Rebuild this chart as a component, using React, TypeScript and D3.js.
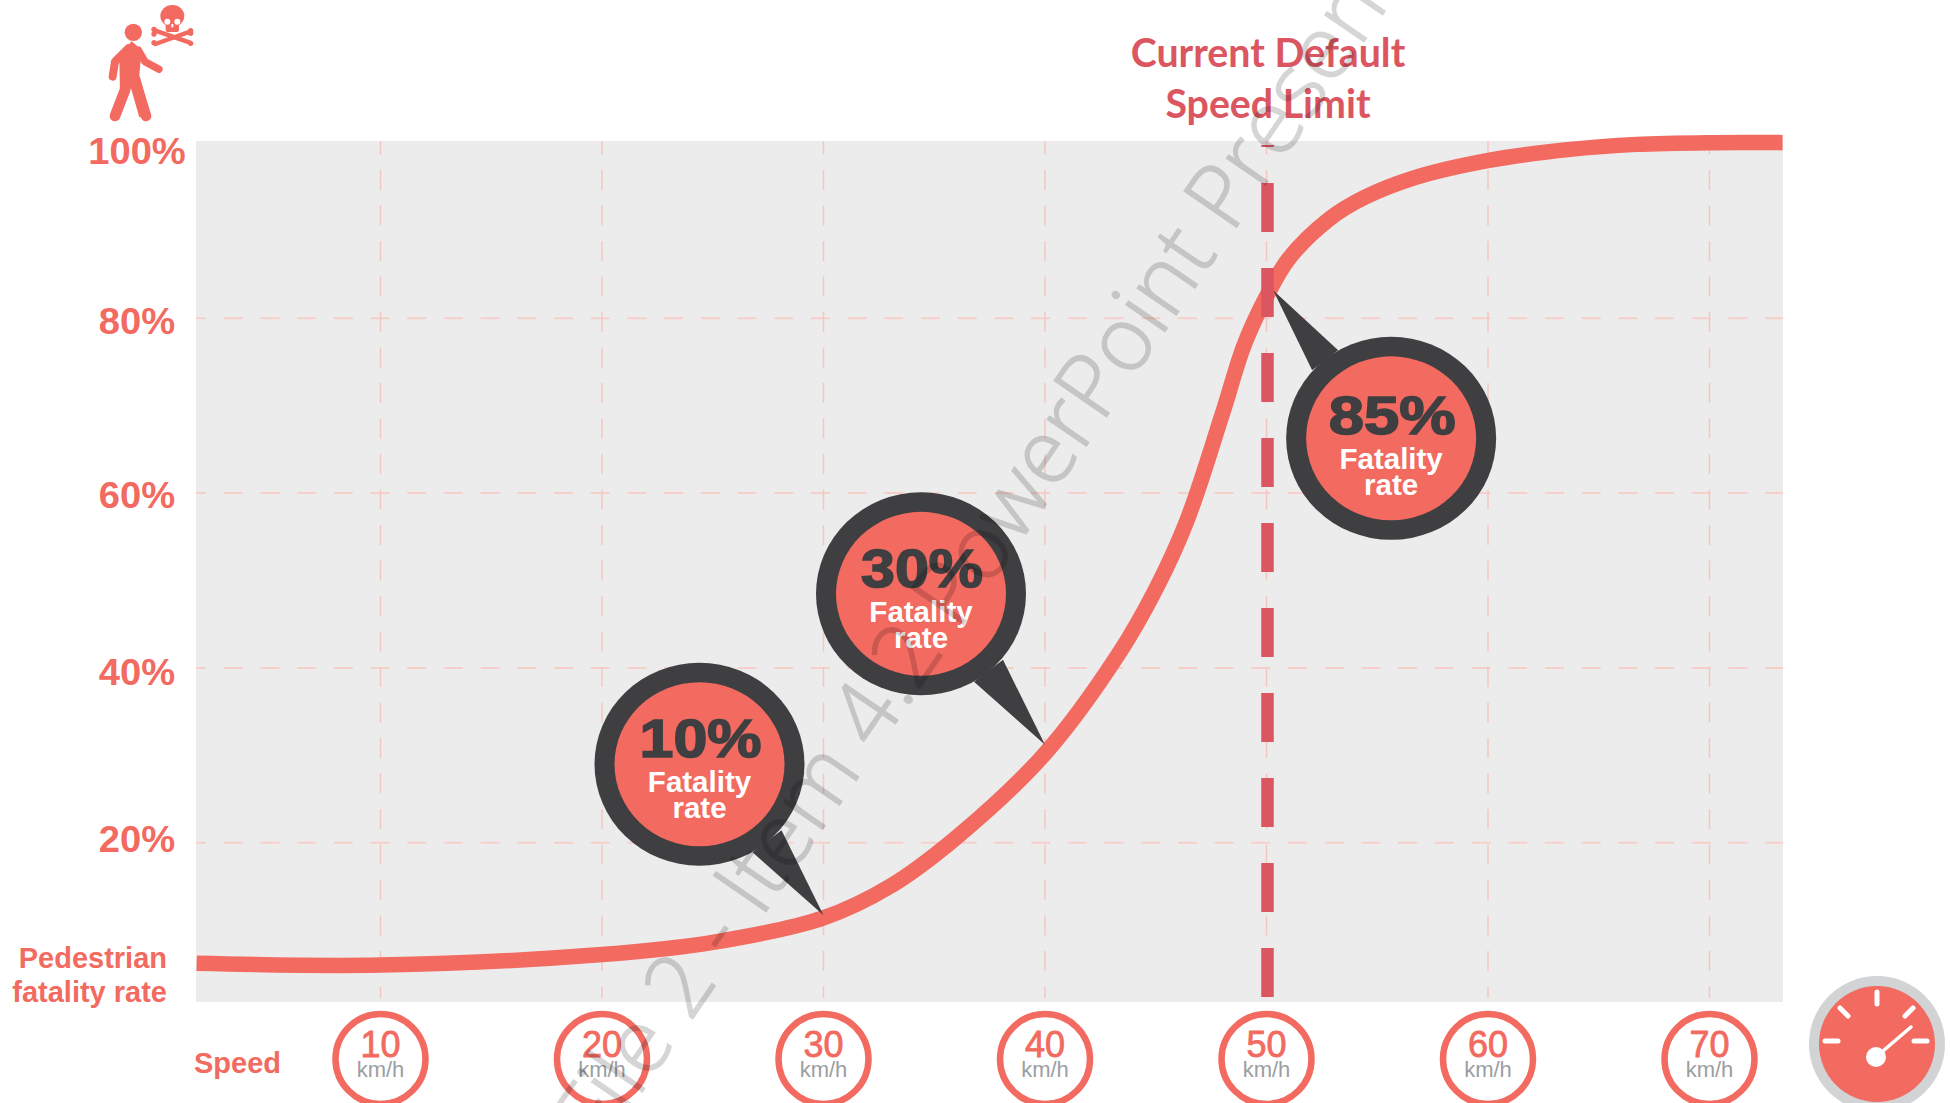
import React from 'react';
import * as d3 from 'd3';

const speedTicks = [10, 20, 30, 40, 50, 60, 70];
const rateTicks = [20, 40, 60, 80, 100];
const rateNudge = [9, 17, 15, 16, 20];

// speed in km/h, fatality rate in %
const curveSpeed = [1.7, 10, 20, 25, 30, 33, 36, 40, 43.3, 45, 46.4, 48, 49, 50, 51, 52.8, 54.4, 56.7, 60.1, 63.6, 66.7, 70.2, 73.3];
const curveRate = [6.2, 6.0, 7.2, 8.6, 11.4, 15, 20.6, 30.2, 41.5, 49, 56.8, 69, 77, 82.5, 86.8, 91.3, 93.8, 96.1, 98.1, 99.3, 99.9, 100.1, 100.1];

const calloutLabels = ['10%', '30%', '85%'];
const calloutSpeed = [30, 40, 50.3];
const calloutRate = [11.7, 31.2, 83.2];
const limitSpeed = 50;

const SALMON = '#f26a60';
const DARK = '#3f3f41';
const SANS = '"Liberation Sans", Arial, sans-serif';

const plot = { left: 196, right: 1783, top: 141, bottom: 1002 };

const x = d3.scaleLinear().domain([10, 70]).range([380.5, 1709.5]);
const y = d3.scaleLinear().domain([0, 100]).range([1017.5, 143.5]);

const curve = d3.line<number>()
  .x((s) => x(s))
  .y((_, i) => y(curveRate[i]))
  .curve(d3.curveCatmullRom.alpha(0.5));

const Callout = ({ i }: { i: number }) => {
  const tx = x(calloutSpeed[i]);
  const ty = y(calloutRate[i]);
  const flip = i === 2;
  const cx = tx + (flip ? 118 : -124);
  const cy = ty + (flip ? 148 : -151);
  const d = flip ? 3 : 0;
  const tail = flip
    ? [[tx + 65, ty + 60], [tx, ty], [tx + 39, ty + 80]]
    : [[tx - 42, ty - 85], [tx, ty], [tx - 71, ty - 63]];
  return (
    <g>
      <polygon points={tail.map((p) => p.join(',')).join(' ')} fill={DARK} />
      <ellipse cx={cx} cy={cy} rx={105} ry={101.5} fill={DARK} />
      <ellipse cx={cx} cy={cy} rx={85} ry={82} fill={SALMON} />
      <text x={cx + 1} y={cy - 7 + d} textAnchor="middle" fontFamily={SANS} fontWeight="bold" fontSize={54}
        fill={DARK} stroke={DARK} strokeWidth={1.6} textLength={flip ? 127 : 122} lengthAdjust="spacingAndGlyphs">
        {calloutLabels[i]}
      </text>
      <text x={cx} y={cy + 28 + d} textAnchor="middle" fontFamily={SANS} fontWeight="bold" fontSize={29.5} fill="#fff">Fatality</text>
      <text x={cx} y={cy + 54 + d} textAnchor="middle" fontFamily={SANS} fontWeight="bold" fontSize={29.5} fill="#fff">rate</text>
    </g>
  );
};

const Walker = () => (
  <g transform="translate(60,0) scale(0.3333)" fill={SALMON} stroke="none">
    <circle cx={220} cy={97} r={26} />
    <polygon points="178,165 215,124 245,150 238,225 272,350 238,352 213,265 172,352 150,345 180,285" />
    <g fill="none" stroke={SALMON} strokeLinecap="round" strokeLinejoin="round">
      <polyline points="205,145 165,185 158,230" strokeWidth={24} />
      <polyline points="235,150 255,185 297,208" strokeWidth={22} />
      <line x1={195} y1={270} x2={165} y2={348} strokeWidth={32} />
      <line x1={225} y1={240} x2={258} y2={348} strokeWidth={32} />
      <line x1={286} y1={92} x2={390} y2={128} strokeWidth={13} />
      <line x1={390} y1={95} x2={286} y2={132} strokeWidth={13} />
    </g>
    <circle cx={282} cy={88} r={8} /><circle cx={282} cy={102} r={8} />
    <circle cx={392} cy={92} r={8} /><circle cx={392} cy={130} r={8} />
    <circle cx={282} cy={128} r={8} /><circle cx={392} cy={100} r={8} />
    <ellipse cx={337} cy={48} rx={36} ry={33} />
    <rect x={317} y={65} width={40} height={31} rx={6} />
    <circle cx={322} cy={65} r={9} fill="#fff" />
    <circle cx={352} cy={65} r={9} fill="#fff" />
    <rect x={334} y={72} width={6} height={10} fill="#fff" />
  </g>
);

const Gauge = () => {
  const cx = 1877;
  const cy = 1044;
  const marks = [[0, -52, 0, -40], [-52, -3, -39, -3], [37, -3, 50, -3], [-37, -36, -29, -28], [36, -36, 28, -28]];
  return (
    <g>
      <circle cx={cx} cy={cy} r={68} fill="#d1d3d4" />
      <circle cx={cx} cy={cy} r={58} fill={SALMON} />
      <g stroke="#fff" strokeWidth={5} strokeLinecap="round">
        {marks.map((m, i) => (
          <line key={i} x1={cx + m[0]} y1={cy + m[1]} x2={cx + m[2]} y2={cy + m[3]} />
        ))}
      </g>
      <line x1={cx - 1} y1={cy + 13} x2={cx + 34} y2={cy - 17} stroke="#fff" strokeWidth={3.5} strokeLinecap="round" />
      <circle cx={cx - 1} cy={cy + 13} r={10} fill="#fff" />
    </g>
  );
};

const App = () => (
  <svg width={1950} height={1103} viewBox="0 0 1950 1103"
    style={{ position: 'absolute', left: 0, top: 0, background: '#fff' }}>
    <rect x={plot.left} y={plot.top} width={plot.right - plot.left} height={plot.bottom - plot.top} fill="#ececec" />

    {rateTicks.slice(0, 4).map((r) => (
      <line key={r} x1={plot.left} x2={plot.right} y1={y(r)} y2={y(r)}
        stroke="#f6cfca" strokeWidth={2} strokeDasharray="19 17.7" strokeDashoffset={9} />
    ))}
    {speedTicks.map((s) => (
      <line key={s} x1={x(s)} x2={x(s)} y1={plot.top} y2={plot.bottom - 4}
        stroke="#f4c6c0" strokeWidth={1.5} strokeDasharray="20 15.5" strokeDashoffset={6.5} />
    ))}

    <path d={curve(curveSpeed) ?? ''} fill="none" stroke={SALMON} strokeWidth={15.5} />

    <line x1={x(limitSpeed) + 1} x2={x(limitSpeed) + 1} y1={145} y2={997}
      stroke="#db5660" strokeWidth={12.5} strokeDasharray="49 36" strokeDashoffset={47} />

    {calloutLabels.map((_, i) => <Callout key={i} i={i} />)}

    <g fontFamily={SANS} fontWeight="bold" fill={SALMON}>
      {rateTicks.map((r, i) => (
        <text key={r} transform={`translate(137,${y(r) + rateNudge[i]}) scale(1.06,1)`} textAnchor="middle" fontSize={36}>{r}%</text>
      ))}
      <text x={167} y={968} textAnchor="end" fontSize={29}>Pedestrian</text>
      <text x={167} y={1002} textAnchor="end" fontSize={29}>fatality rate</text>
      <text x={194} y={1073} fontSize={29}>Speed</text>
    </g>

    {speedTicks.map((s) => (
      <g key={s}>
        <circle cx={x(s)} cy={1059} r={45} fill="#fff" stroke={SALMON} strokeWidth={6.5} />
        <text x={x(s)} y={1057} textAnchor="middle" fontFamily={SANS} fontSize={36}
          fill={SALMON} stroke={SALMON} strokeWidth={0.8}>{s}</text>
        <text x={x(s)} y={1077} textAnchor="middle" fontFamily={SANS} fontSize={22} fill="#9b9ea2">km/h</text>
      </g>
    ))}

    <g fontFamily="Lato, sans-serif" fontWeight="bold" fontSize={39.3} fill="#db5660" textAnchor="middle">
      <text x={1268} y={67}>Current Default</text>
      <text x={1268} y={118}>Speed Limit</text>
    </g>

    <Walker />
    <Gauge />

    <text transform="translate(601,1152) rotate(-55.5)" fontFamily='"Open Sans", sans-serif' fontWeight={300}
      fontSize={89} fill="#000" stroke="#000" strokeWidth={1.5} opacity={0.16}>
      File 2 - Item 4.2 PowerPoint Presentation
    </text>
  </svg>
);

export default App;
